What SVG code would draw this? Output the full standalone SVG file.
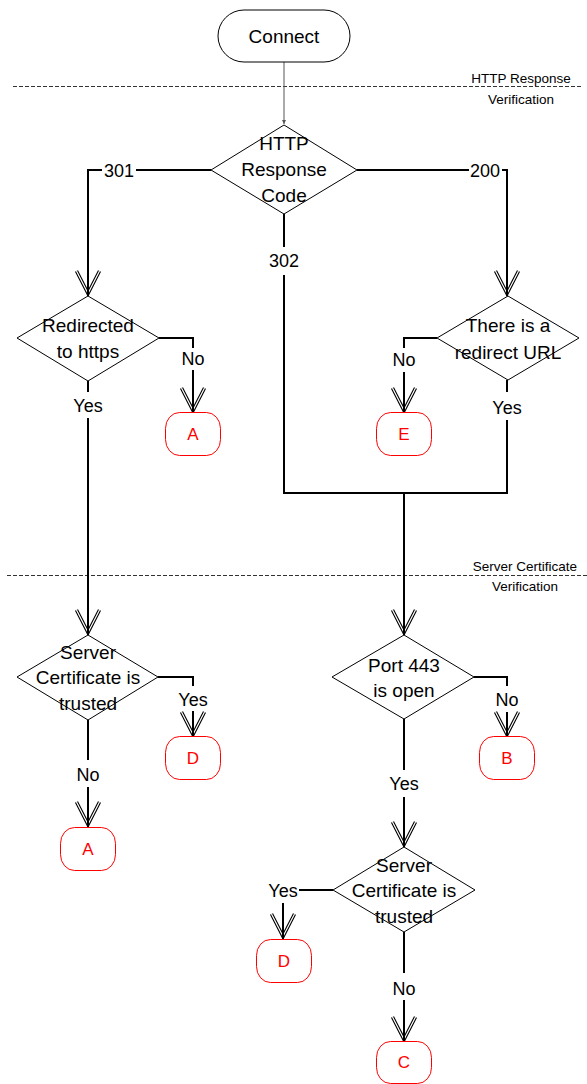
<svg xmlns="http://www.w3.org/2000/svg" width="587" height="1084" viewBox="0 0 587 1084">
<defs>
<marker id="vee" markerUnits="userSpaceOnUse" viewBox="-28 -15 30 30" refX="0" refY="0" markerWidth="30" markerHeight="30" orient="auto" overflow="visible">
<path d="M-25,-11.5 L-2.5,0 L-25,11.5" fill="none" stroke="#000" stroke-width="3.4"/>
<path d="M-25,-11.5 L-2.5,0 L-25,11.5" fill="none" stroke="#fff" stroke-width="1.2"/>
<path d="M-24,0 L0,0" stroke="#000" stroke-width="2"/>
</marker>
<marker id="tiny" markerUnits="userSpaceOnUse" viewBox="-4 -3 5 6" refX="0" refY="0" markerWidth="5" markerHeight="6" orient="auto">
<path d="M-4,-2 L0,0 L-4,2 z" fill="#555"/>
</marker>
</defs>
<style>
text{font-family:"Liberation Sans",Arial,sans-serif;fill:#000;text-anchor:middle}
.t{font-size:19px}
.l{font-size:18px}
.s{font-size:13.5px}
.r{font-size:17px;fill:#f00}
.dia{fill:#fff;stroke:#000;stroke-width:1}
.con{fill:#fff;stroke:#f00;stroke-width:1}
.ln{fill:none;stroke:#000;stroke-width:2}
.ar{marker-end:url(#vee)}
.dash{stroke:#333;stroke-width:1;stroke-dasharray:4 2;fill:none}
</style>
<g id="separators">
<line class="dash" x1="13" y1="86.5" x2="582" y2="86.5"/>
<text class="s" x="521" y="83">HTTP Response</text>
<text class="s" x="521" y="104">Verification</text>
<line class="dash" x1="7" y1="575.5" x2="587" y2="575.5"/>
<text class="s" x="525" y="571">Server Certificate</text>
<text class="s" x="525" y="591">Verification</text>
</g>
<g id="connectors">
<path d="M284,62 V124" stroke="#555" stroke-width="1" fill="none" marker-end="url(#tiny)"/>
<path class="ln" d="M211,170 H136 M102,170 H88"/>
<path class="ln ar" d="M88,169 V296"/>
<path class="ln" d="M357,170 H469 M502,170 H507"/>
<path class="ln ar" d="M507,169 V296"/>
<path class="ln" d="M284,214 V247 M284,275 V493 H507 V420"/>
<path class="ln" d="M507,380 V392"/>
<path class="ln ar" d="M404,493 V635"/>
<path class="ln" d="M159,338 H193 V348"/>
<path class="ln ar" d="M193,370 V413"/>
<path class="ln" d="M88,381 V392"/>
<path class="ln ar" d="M88,418 V635"/>
<path class="ln" d="M437,338 H404 V348"/>
<path class="ln ar" d="M404,372 V413"/>
<path class="ln" d="M158,677 H193 V686"/>
<path class="ln ar" d="M193,711 V737"/>
<path class="ln" d="M88,720 V760"/>
<path class="ln ar" d="M88,787 V827"/>
<path class="ln" d="M474,677 H507 V686"/>
<path class="ln ar" d="M507,712 V737"/>
<path class="ln" d="M404,719 V770"/>
<path class="ln ar" d="M404,797 V847"/>
<path class="ln" d="M333,890 H299"/>
<path class="ln ar" d="M283,903 V939"/>
<path class="ln" d="M404,932 V973"/>
<path class="ln ar" d="M404,1000 V1042"/>
<text class="l" x="119" y="176.5">301</text>
<text class="l" x="485" y="176.5">200</text>
<text class="l" x="284" y="266.5">302</text>
<text class="l" x="193" y="364.5">No</text>
<text class="l" x="88" y="411.5">Yes</text>
<text class="l" x="404" y="366">No</text>
<text class="l" x="507" y="413.5">Yes</text>
<text class="l" x="193" y="706">Yes</text>
<text class="l" x="88" y="781">No</text>
<text class="l" x="507" y="706">No</text>
<text class="l" x="404" y="789.5">Yes</text>
<text class="l" x="283" y="896.5">Yes</text>
<text class="l" x="404" y="994.5">No</text>
</g>
<g id="connect">
<rect x="218" y="10" width="132" height="52" rx="26" ry="26" fill="#fff" stroke="#000" stroke-width="1"/>
<text class="t" x="284" y="43">Connect</text>
</g>
<g id="http-code">
<polygon class="dia" points="284,125 357,170 284,214 211,170"/>
<text class="t" x="284" y="150">HTTP</text>
<text class="t" x="284" y="176">Response</text>
<text class="t" x="284" y="202">Code</text>
</g>
<g id="redirected-https">
<polygon class="dia" points="88,296 159,338 88,381 17,338"/>
<text class="t" x="88" y="332">Redirected</text>
<text class="t" x="88" y="358">to https</text>
</g>
<g id="redirect-url">
<polygon class="dia" points="508,296 579,338 508,380 437,338"/>
<text class="t" x="508" y="332">There is a</text>
<text class="t" x="508" y="359">redirect URL</text>
</g>
<g id="cert-left">
<polygon class="dia" points="88,635 158,677 88,720 17,677"/>
<text class="t" x="88" y="659">Server</text>
<text class="t" x="88" y="684">Certificate is</text>
<text class="t" x="88" y="710">trusted</text>
</g>
<g id="port443">
<polygon class="dia" points="404,635 474,677 404,719 332,677"/>
<text class="t" x="404" y="672">Port 443</text>
<text class="t" x="404" y="697">is open</text>
</g>
<g id="cert-right">
<polygon class="dia" points="404,847 475,890 404,932 333,890"/>
<text class="t" x="404" y="872">Server</text>
<text class="t" x="404" y="897">Certificate is</text>
<text class="t" x="404" y="923">trusted</text>
</g>
<g id="conn-a1">
<rect class="con" x="165.5" y="412.5" width="55" height="43" rx="14" ry="16"/>
<text class="r" x="193" y="440">A</text>
</g>
<g id="conn-e">
<rect class="con" x="376.5" y="412.5" width="55" height="43" rx="14" ry="16"/>
<text class="r" x="404" y="440">E</text>
</g>
<g id="conn-d1">
<rect class="con" x="165.5" y="736.5" width="55" height="43" rx="14" ry="16"/>
<text class="r" x="193" y="764">D</text>
</g>
<g id="conn-a2">
<rect class="con" x="60.5" y="827.5" width="55" height="43" rx="14" ry="16"/>
<text class="r" x="88" y="855">A</text>
</g>
<g id="conn-b">
<rect class="con" x="479.5" y="736.5" width="55" height="43" rx="14" ry="16"/>
<text class="r" x="507" y="764">B</text>
</g>
<g id="conn-d2">
<rect class="con" x="256.5" y="939.5" width="55" height="43" rx="14" ry="16"/>
<text class="r" x="284" y="967">D</text>
</g>
<g id="conn-c">
<rect class="con" x="376.5" y="1041.5" width="55" height="42" rx="14" ry="16"/>
<text class="r" x="404" y="1068">C</text>
</g>
</svg>
